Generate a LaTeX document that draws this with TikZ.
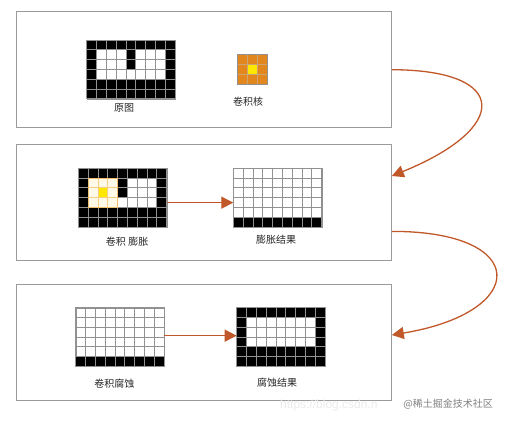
\documentclass[tikz,border=0pt]{standalone}
\usepackage{fontspec}
\newfontfamily\cjk{Noto Sans CJK SC}
\setsansfont{Liberation Sans}
\usetikzlibrary{arrows.meta,calc}
\definecolor{arrowc}{RGB}{193,88,42}
\definecolor{panelc}{RGB}{155,155,155}
\definecolor{gridc}{RGB}{145,145,145}
\definecolor{kern}{RGB}{226,135,30}
\definecolor{kyel}{RGB}{255,232,0}
\definecolor{kpale}{RGB}{255,250,232}
\definecolor{kline}{RGB}{246,205,130}
\newcommand\cellsz{9.8}
\tikzset{
  panel/.style={draw=panelc, line width=1.1pt, fill=white, minimum width=375pt, minimum height=116.3pt, anchor=north west, inner sep=0pt},
  gridbox/.style={draw=gridc, line width=0.5pt, fill=white, minimum width=88.2pt, minimum height=58.8pt, anchor=north west, inner sep=0pt},
  kernbox/.style={draw=gridc, line width=0.5pt, fill=kern, minimum width=30pt, minimum height=30pt, anchor=north west, inner sep=0pt},
  gl/.style={draw=gridc, line width=0.6pt},
  lbl/.style={font=\cjk\fontsize{10}{12}\selectfont, text=black!85, inner sep=0pt},
  arr/.style={draw=arrowc, line width=1.3pt, -{Triangle[length=12pt,width=12pt]}},
}
\newcommand\gridlines{%
  \foreach \i in {1,...,8} \draw[gl] (\i*\cellsz,0) -- ++(0,6*\cellsz);
  \foreach \j in {1,...,5} \draw[gl] (0,\j*\cellsz) -- ++(9*\cellsz,0);
  \draw[gl] (0,0) rectangle (9*\cellsz,6*\cellsz);}
\begin{document}
\begin{tikzpicture}[x=1pt,y=-1pt]
\useasboundingbox[fill=white] (0,0) rectangle (505,422);
% panels
\node[panel] (p1) at (15.7,11) {};
\node[panel] (p2) at (15.7,144) {};
\node[panel] (p3) at (15.7,284) {};

% ---- panel 1: original image
\node[gridbox] (orig) at (86.7,40) {};
\begin{scope}[shift={(orig.north west)}]
  \fill[black] (0,0) rectangle (9*\cellsz,6*\cellsz);
  \fill[white] (1*\cellsz,1*\cellsz) rectangle (4*\cellsz,4*\cellsz);
  \fill[white] (5*\cellsz,1*\cellsz) rectangle (8*\cellsz,4*\cellsz);
  \fill[white] (4*\cellsz,3*\cellsz) rectangle (5*\cellsz,4*\cellsz);
  \gridlines
\end{scope}
\node[lbl] (origl) at (124,108) {原图};

% kernel
\node[kernbox] (kernel) at (237,54) {};
\begin{scope}[shift={(kernel.north west)}]
  \fill[kyel] (10,10) rectangle (20,20);
  \draw[draw=kern!75!black!60, line width=0.5pt] (10,0) -- (10,30) (20,0) -- (20,30) (0,10) -- (30,10) (0,20) -- (30,20);
  \draw[gl] (0,0) rectangle (30,30);
\end{scope}
\node[lbl] (kernl) at (248,102) {卷积核};

% ---- panel 2: dilation
\node[gridbox] (dil) at (78.3,168) {};
\begin{scope}[shift={(dil.north west)}]
  \fill[black] (0,0) rectangle (9*\cellsz,6*\cellsz);
  \fill[white] (1*\cellsz,1*\cellsz) rectangle (4*\cellsz,4*\cellsz);
  \fill[white] (5*\cellsz,1*\cellsz) rectangle (8*\cellsz,4*\cellsz);
  \fill[white] (4*\cellsz,3*\cellsz) rectangle (5*\cellsz,4*\cellsz);
  \gridlines
  \fill[kpale] (1*\cellsz,1*\cellsz) rectangle (4*\cellsz,4*\cellsz);
  \fill[kyel] (2*\cellsz,2*\cellsz) rectangle (3*\cellsz,3*\cellsz);
  \foreach \i in {2,3} \draw[draw=kline, line width=0.5pt] (\i*\cellsz,1*\cellsz) -- (\i*\cellsz,4*\cellsz);
  \foreach \j in {2,3} \draw[draw=kline, line width=0.5pt] (1*\cellsz,\j*\cellsz) -- (4*\cellsz,\j*\cellsz);
  \draw[draw=kline!80!kern, line width=0.5pt] (1*\cellsz,1*\cellsz) rectangle (4*\cellsz,4*\cellsz);
\end{scope}
\node[lbl] (dill) at (127,242) {卷积\hspace{2.5pt}膨胀};

\node[gridbox] (dilres) at (233.3,168) {};
\begin{scope}[shift={(dilres.north west)}]
  \fill[black] (0,5*\cellsz) rectangle (9*\cellsz,6*\cellsz);
  \gridlines
\end{scope}
\node[lbl] (dilresl) at (276,240) {膨胀结果};

\draw[arr] ([yshift=-5pt]dil.east) -- ([yshift=-5pt]dilres.west);

% ---- panel 3: erosion
\node[gridbox] (ero) at (75.7,307.5) {};
\begin{scope}[shift={(ero.north west)}]
  \fill[black] (0,5*\cellsz) rectangle (9*\cellsz,6*\cellsz);
  \gridlines
\end{scope}
\node[lbl] (erol) at (114.3,384) {卷积腐蚀};

\node[gridbox] (erores) at (236.7,307.5) {};
\begin{scope}[shift={(erores.north west)}]
  \fill[black] (0,0) rectangle (9*\cellsz,6*\cellsz);
  \fill[white] (1*\cellsz,1*\cellsz) rectangle (8*\cellsz,4*\cellsz);
  \gridlines
\end{scope}
\node[lbl] (eroresl) at (277,383) {腐蚀结果};

\draw[arr] ([yshift=1.5pt]ero.east) -- ([yshift=1.5pt]erores.west);

% ---- curved arrows between panels
\coordinate (s1) at (p1.east);
\coordinate (e1) at ([yshift=-32pt]p2.north east);
\draw[arr] (s1) .. controls (510,70) and (510,128) .. (e1);
\coordinate (s2) at ([yshift=-28.7pt]p2.east);
\coordinate (e2) at ([yshift=-51pt]p3.north east);
\draw[arr] (s2) .. controls (530,231) and (530,312) .. (e2);

% watermark
\node[font=\sffamily\fontsize{12}{14}\selectfont, text=black!8, anchor=west, inner sep=0pt] (url) at (280,405) {https://blog.csdn.n};
\node[font=\cjk\fontsize{10}{12}\selectfont, text=black!50, anchor=east, inner sep=0pt, fill=white, inner xsep=1pt] (wm) at (494,404) {@稀土掘金技术社区};
\end{tikzpicture}
\end{document}
